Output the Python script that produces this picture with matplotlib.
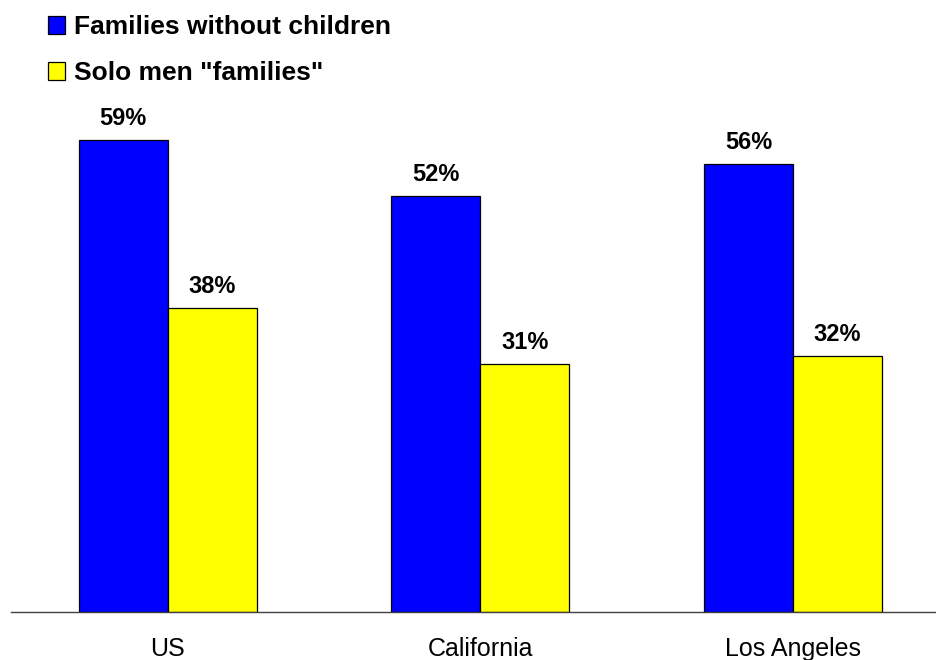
import matplotlib
matplotlib.use("Agg")
from matplotlib import pyplot as plt

plt.rcParams['font.family'] = ['Liberation Sans', 'DejaVu Sans']

places = ["US", "California", "Los Angeles"]
no_children = [59, 52, 56]
solo_men = [38, 31, 32]
series_names = ["Families without children", 'Solo men "families"']

fig = plt.figure(figsize=(9.37, 6.6), dpi=100)
ax = fig.add_axes([11 / 937, 48 / 660, 926 / 937, 612 / 660])

width = 0.285
x = range(len(places))
b1 = ax.bar([i - width / 2 for i in x], no_children, width, color="#0000ff",
            edgecolor="black", linewidth=0.9, label=series_names[0])
b2 = ax.bar([i + width / 2 for i in x], solo_men, width, color="#ffff00",
            edgecolor="black", linewidth=0.9, label=series_names[1])

for bars, vals in ((b1, no_children), (b2, solo_men)):
    for rect, v in zip(bars, vals):
        ax.annotate("{0}%".format(v), (rect.get_x() + rect.get_width() / 2, v),
                    xytext=(0, 11), textcoords="offset points",
                    ha="center", va="baseline", fontsize=17, fontweight="bold")

ax.set_xlim(-0.502, 2.461)
ax.set_ylim(0, 76.5)
ax.set_xticks(list(x))
ax.set_xticklabels(places, fontsize=18)
ax.tick_params(axis="x", length=0, pad=18)
ax.set_yticks([])
for side in ("left", "right", "top"):
    ax.spines[side].set_visible(False)
ax.spines["bottom"].set_color("#404040")
ax.spines["bottom"].set_linewidth(1)

fig.legend(handles=[b1, b2], loc="upper left", bbox_to_anchor=(48 / 937, 1 - 15 / 660),
           frameon=False, prop={"weight": "bold", "size": 19},
           handlelength=0.64, handleheight=0.68, handletextpad=0.33,
           labelspacing=0.85, borderpad=0, borderaxespad=0)

plt.savefig("out.png", dpi=100)
